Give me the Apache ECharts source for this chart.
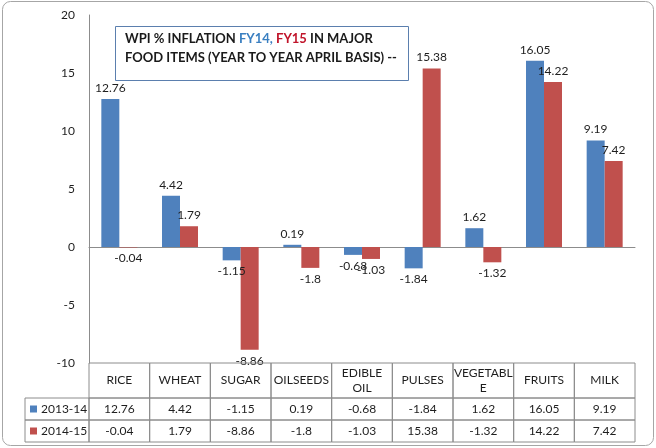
<!DOCTYPE html>
<html>
<head>
<meta charset="utf-8">
<script src="https://cdn.jsdelivr.net/npm/echarts@6/dist/echarts.min.js"></script>
<style>
  html, body { margin: 0; padding: 0; background: #fff; }
  #chart { width: 656px; height: 448px; }
</style>
</head>
<body>
<div id="chart"></div>
<script>
// chart data
const categories = ['RICE', 'WHEAT', 'SUGAR', 'OILSEEDS', 'EDIBLE\nOIL', 'PULSES', 'VEGETABL\nE', 'FRUITS', 'MILK'];
const seriesNames = ['2013-14', '2014-15'];
const fy14 = [12.76, 4.42, -1.15, 0.19, -0.68, -1.84, 1.62, 16.05, 9.19];
const fy15 = [-0.04, 1.79, -8.86, -1.8, -1.03, 15.38, -1.32, 14.22, 7.42];
const yMin = -10, yMax = 20, yStep = 5;

const colors = ['#4F81BD', '#C0504D'];
const font = 'Lato, "Liberation Sans", sans-serif';
const lineColor = '#8c8c8c';

const chart = echarts.init(document.getElementById('chart'));

// labels sit above positive bars and below negative ones, like excel
const withLabels = (vals) => vals.map(v => ({
  value: v,
  label: { position: v < 0 ? 'bottom' : 'top' }
}));

// data table under the plot, laid out on the category axis
function renderTable(params, api) {
  const i = api.value(0);
  const p = api.coord([i, yMin]);
  const w = api.size([1, 0])[0];
  const x0 = p[0] - w / 2, y0 = p[1];
  const headH = 35, rowH = 22;
  const cell = (x, y, cw, ch) => ({
    type: 'rect', shape: { x: x, y: y, width: cw, height: ch },
    style: { fill: 'none', stroke: lineColor, lineWidth: 1 }
  });
  const txt = (t, x, y, align) => ({
    type: 'text',
    style: { text: t, x: x, y: y, align: align || 'center', verticalAlign: 'middle',
      fill: '#1e1e1e', fontSize: 12, fontFamily: font, lineHeight: 15 }
  });
  const kids = [
    cell(x0, y0, w, headH),
    cell(x0, y0 + headH, w, rowH),
    cell(x0, y0 + headH + rowH, w, rowH),
    txt(categories[i], p[0], y0 + headH / 2),
    txt(String(fy14[i]), p[0], y0 + headH + rowH / 2),
    txt(String(fy15[i]), p[0], y0 + headH + rowH * 1.5)
  ];
  if (i === 0) {
    const lw = 64;
    [0, 1].forEach(r => {
      const ry = y0 + headH + rowH * r;
      kids.push(cell(x0 - lw, ry, lw, rowH));
      kids.push({
        type: 'rect', shape: { x: x0 - lw + 5, y: ry + rowH / 2 - 3.5, width: 7, height: 7 },
        style: { fill: colors[r] }
      });
      kids.push(txt(seriesNames[r], x0 - lw + 16, ry + rowH / 2, 'left'));
    });
  }
  return { type: 'group', children: kids };
}

const option = {
  animation: false,
  textStyle: { fontFamily: font },
  title: {
    text: '{a|WPI % INFLATION }{b|FY14, }{c|FY15}{a| IN MAJOR}\n{a|FOOD ITEMS (YEAR TO YEAR APRIL BASIS) --}',
    left: 115,
    top: 23,
    borderColor: '#5b7fae',
    borderWidth: 1,
    padding: [6, 12, 17, 10],
    textStyle: {
      rich: {
        a: { fontSize: 13, fontWeight: 'bold', color: '#1a1a1a', lineHeight: 19, fontFamily: font },
        b: { fontSize: 13, fontWeight: 'bold', color: '#3a7fc1', lineHeight: 19, fontFamily: font },
        c: { fontSize: 13, fontWeight: 'bold', color: '#c0142a', lineHeight: 19, fontFamily: font }
      }
    }
  },
  graphic: [{
    type: 'rect', silent: true, z: -10,
    shape: { x: 2.5, y: 1.5, width: 651, height: 444, r: 8 },
    style: { fill: 'none', stroke: '#a6a6a6', lineWidth: 1 }
  }],
  grid: { left: 89, right: 21, top: 15, bottom: 85 },
  xAxis: {
    type: 'category',
    data: categories,
    axisLine: { onZero: true, lineStyle: { color: lineColor } },
    axisTick: { show: false },
    axisLabel: { show: false },
    splitLine: { show: false }
  },
  yAxis: {
    type: 'value',
    min: yMin, max: yMax, interval: yStep,
    axisLine: { show: true, lineStyle: { color: lineColor } },
    axisTick: { show: false },
    splitLine: { show: false },
    axisLabel: { color: '#1e1e1e', fontSize: 12, margin: 14 }
  },
  series: [
    {
      name: seriesNames[0], type: 'bar', data: withLabels(fy14),
      barWidth: 18, barGap: '0%',
      itemStyle: { color: colors[0] },
      label: { show: true, distance: 5, color: '#1e1e1e', fontSize: 12 }
    },
    {
      name: seriesNames[1], type: 'bar', data: withLabels(fy15),
      barWidth: 18, barGap: '0%',
      itemStyle: { color: colors[1] },
      label: { show: true, distance: 5, color: '#1e1e1e', fontSize: 12 }
    },
    {
      type: 'custom',
      silent: true,
      clip: false,
      renderItem: renderTable,
      encode: { x: 0, y: 1 },
      data: categories.map((c, i) => [i, yMin]),
      z: 5
    }
  ]
};
chart.setOption(option);
</script>
</body>
</html>
